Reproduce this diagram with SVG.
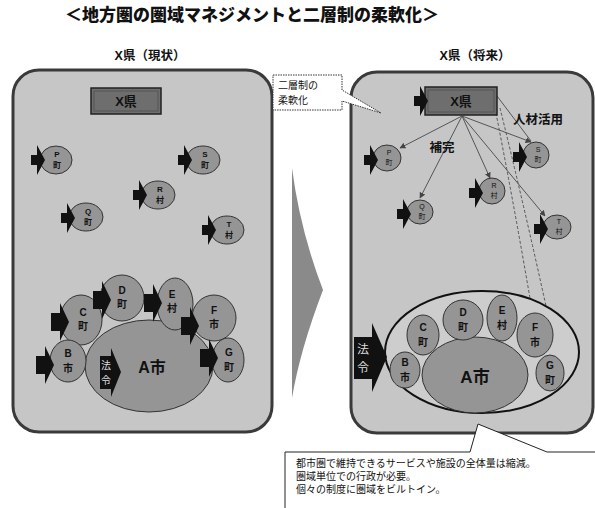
<svg xmlns="http://www.w3.org/2000/svg" width="595" height="508" viewBox="0 0 595 508">
<defs>
<style>
.t{font-family:"Liberation Sans","Noto Sans CJK JP",sans-serif;fill:#111}
.b{font-weight:bold}
.panel{fill:#c6c6c6;stroke:#3a3a3a;stroke-width:3}
.node{fill:#959595;stroke:#333;stroke-width:1}
.pref{fill:#6e6e6e;stroke:#222;stroke-width:1.5}
.ln{stroke:#555;stroke-width:1;fill:none}
.dl{stroke:#555;stroke-width:1;fill:none;stroke-dasharray:3 2}
.sm{font-size:8px;text-anchor:middle;font-weight:bold}
.md{font-size:10px;text-anchor:middle;font-weight:bold}
</style>
<path id="sa" d="M-13,-5 L-7,-5 L-7,-15 L1,0 L-7,15 L-7,5 L-13,5 Z" fill="#111"/>
<path id="la" d="M-17,-9 L-8,-9 L-8,-19 L1,0 L-8,19 L-8,9 L-17,9 Z" fill="#111"/>
<marker id="ah" viewBox="0 0 10 10" refX="9" refY="5" markerWidth="6" markerHeight="6" orient="auto">
<path d="M0,0 L10,5 L0,10 Z" fill="#444"/>
</marker>
</defs>
<rect width="595" height="508" fill="#fff"/>
<text id="title" x="252" y="21" font-size="17" text-anchor="middle" font-weight="900" fill="#111" font-family="Noto Sans CJK JP,sans-serif">＜地方圏の圏域マネジメントと二層制の柔軟化＞</text>
<text class="t b" x="150" y="60" font-size="12.5" text-anchor="middle">X県（現状）</text>
<text class="t b" x="475" y="60" font-size="12.5" text-anchor="middle">X県（将来）</text>

<g id="left-panel"><rect class="panel" x="13" y="70" width="259" height="362" rx="26"/></g>
<g id="right-panel"><rect class="panel" x="351" y="72" width="242" height="361" rx="26"/></g>

<g id="mid-arrow"><path d="M292,168 Q300,230 323,290 Q300,350 292,398 Z" fill="#8a8a8a"/></g>

<g id="callout-top">
<path d="M273,75 H342 V90 L381,113 L342,101 V110 H273 Z" fill="#fff" stroke="#333" stroke-width="1" stroke-dasharray="1.5 1"/>
<text class="t" x="278" y="89" font-size="10">二層制の</text>
<text class="t" x="278" y="104" font-size="10">柔軟化</text>
</g>

<g id="L-X"><rect class="pref" x="91" y="88" width="70" height="26"/><rect x="94" y="91" width="64" height="20" fill="none" stroke="#555" stroke-width="1"/><text class="t b" x="126" y="106" font-size="13" text-anchor="middle">X県</text></g>
<g id="L-P"><ellipse class="node" cx="56" cy="160" rx="16" ry="14"/><use href="#sa" x="44" y="160"/><text class="t sm" x="57" y="157">P</text><text class="t sm" x="57" y="168">町</text></g>
<g id="L-S"><ellipse class="node" cx="203" cy="160" rx="17" ry="14"/><use href="#sa" x="191" y="160"/><text class="t sm" x="205" y="157">S</text><text class="t sm" x="205" y="168">町</text></g>
<g id="L-R"><ellipse class="node" cx="158" cy="195" rx="17" ry="14"/><use href="#sa" x="146" y="195"/><text class="t sm" x="160" y="192">R</text><text class="t sm" x="160" y="203">村</text></g>
<g id="L-Q"><ellipse class="node" cx="86" cy="217" rx="17" ry="14"/><use href="#sa" x="74" y="218"/><text class="t sm" x="88" y="214">Q</text><text class="t sm" x="88" y="225">町</text></g>
<g id="L-T"><ellipse class="node" cx="227" cy="230" rx="17" ry="14"/><use href="#sa" x="215" y="230"/><text class="t sm" x="229" y="227">T</text><text class="t sm" x="229" y="238">村</text></g>

<g id="L-A"><ellipse class="node" cx="149" cy="366" rx="64" ry="46"/><text class="t b" x="152" y="373" font-size="16" text-anchor="middle">A市</text></g>
<g id="L-C"><ellipse class="node" cx="81" cy="320" rx="21" ry="25"/><text class="t md" x="83" y="316">C</text><text class="t md" x="83" y="330">町</text></g>
<g id="L-D"><ellipse class="node" cx="122" cy="298" rx="22" ry="23"/><text class="t md" x="122" y="294">D</text><text class="t md" x="122" y="308">町</text></g>
<g id="L-E"><ellipse class="node" cx="175" cy="304" rx="18" ry="26"/><text class="t md" x="172" y="298">E</text><text class="t md" x="172" y="312">村</text></g>
<g id="L-F"><ellipse class="node" cx="214" cy="318" rx="22" ry="23"/><text class="t md" x="214" y="314">F</text><text class="t md" x="214" y="328">市</text></g>
<g id="L-G"><ellipse class="node" cx="228" cy="360" rx="16" ry="22"/><text class="t md" x="229" y="356">G</text><text class="t md" x="229" y="371">町</text></g>
<g id="L-B"><ellipse class="node" cx="68" cy="361" rx="18" ry="21"/><text class="t md" x="68" y="357">B</text><text class="t md" x="68" y="372">市</text></g>
<g id="L-arrows">
<use href="#la" x="68" y="322"/><use href="#la" x="110" y="300"/><use href="#la" x="161" y="303"/>
<use href="#la" x="198" y="326"/><use href="#la" x="217" y="358"/><use href="#la" x="53" y="365"/>
<path d="M100,356 H111 V348 L121,372 L111,397 V389 H100 Z" fill="#111"/>
<text x="106" y="369" font-size="10" fill="#ddd" text-anchor="middle" font-family="Noto Sans CJK JP,sans-serif">法</text>
<text x="106" y="384" font-size="10" fill="#ddd" text-anchor="middle" font-family="Noto Sans CJK JP,sans-serif">令</text>
</g>

<g id="connectors">
<line class="ln" x1="462" y1="116" x2="400" y2="148" marker-end="url(#ah)"/>
<line class="ln" x1="462" y1="116" x2="420" y2="198" marker-end="url(#ah)"/>
<line class="ln" x1="462" y1="116" x2="490" y2="178" marker-end="url(#ah)"/>
<line class="ln" x1="462" y1="116" x2="545" y2="216" marker-end="url(#ah)"/>
<line class="ln" x1="462" y1="116" x2="531" y2="142" marker-end="url(#ah)"/>
<line class="ln" x1="497" y1="96" x2="531" y2="141"/>
<path class="dl" d="M495,108 Q515,210 532,310" marker-end="url(#ah)"/>
<path class="dl" d="M500,108 Q530,230 557,357" marker-end="url(#ah)"/>
</g>
<g id="R-X"><rect class="pref" x="425" y="87" width="72" height="28"/><rect x="428" y="90" width="66" height="22" fill="none" stroke="#555" stroke-width="1"/><text class="t b" x="461" y="106" font-size="13" text-anchor="middle">X県</text><use href="#sa" x="427" y="101"/></g>
<text class="t b" x="442" y="152" font-size="12.5" text-anchor="middle">補完</text>
<text class="t b" x="538" y="124" font-size="12.5" text-anchor="middle">人材活用</text>
<g id="R-P"><ellipse class="node" cx="387" cy="158" rx="14" ry="13"/><use href="#sa" x="377" y="160"/><text class="t" x="389" y="155" font-size="7" text-anchor="middle">P</text><text class="t" x="389" y="165" font-size="7" text-anchor="middle">町</text></g>
<g id="R-S"><ellipse class="node" cx="536" cy="155" rx="13" ry="13"/><use href="#sa" x="526" y="157"/><text class="t" x="538" y="152" font-size="7" text-anchor="middle">S</text><text class="t" x="538" y="162" font-size="7" text-anchor="middle">町</text></g>
<g id="R-R"><ellipse class="node" cx="492" cy="191" rx="13" ry="13"/><use href="#sa" x="482" y="193"/><text class="t" x="494" y="188" font-size="7" text-anchor="middle">R</text><text class="t" x="494" y="198" font-size="7" text-anchor="middle">村</text></g>
<g id="R-Q"><ellipse class="node" cx="420" cy="212" rx="13" ry="12"/><use href="#sa" x="410" y="214"/><text class="t" x="422" y="209" font-size="7" text-anchor="middle">Q</text><text class="t" x="422" y="219" font-size="7" text-anchor="middle">町</text></g>
<g id="R-T"><ellipse class="node" cx="557" cy="227" rx="14" ry="12"/><use href="#sa" x="547" y="229"/><text class="t" x="559" y="224" font-size="7" text-anchor="middle">T</text><text class="t" x="559" y="234" font-size="7" text-anchor="middle">村</text></g>

<g id="R-region"><ellipse cx="482" cy="352" rx="97" ry="61" fill="#cdcdcd" stroke="#111" stroke-width="2"/></g>
<g id="R-A"><ellipse class="node" cx="475" cy="375" rx="53" ry="38"/><text class="t b" x="475" y="383" font-size="17" text-anchor="middle">A市</text></g>
<g id="R-C"><ellipse class="node" cx="423" cy="335" rx="16" ry="20"/><text class="t md" x="423" y="331">C</text><text class="t md" x="423" y="346">町</text></g>
<g id="R-D"><ellipse class="node" cx="463" cy="320" rx="20" ry="20"/><text class="t md" x="463" y="316">D</text><text class="t md" x="463" y="331">町</text></g>
<g id="R-E"><ellipse class="node" cx="502" cy="318" rx="15" ry="23"/><text class="t md" x="502" y="314">E</text><text class="t md" x="502" y="329">村</text></g>
<g id="R-F"><ellipse class="node" cx="535" cy="335" rx="18" ry="22"/><text class="t md" x="535" y="331">F</text><text class="t md" x="535" y="346">市</text></g>
<g id="R-G"><ellipse class="node" cx="550" cy="373" rx="14" ry="18"/><text class="t md" x="550" y="369">G</text><text class="t md" x="550" y="384">町</text></g>
<g id="R-B"><ellipse class="node" cx="405" cy="370" rx="15" ry="18"/><text class="t md" x="405" y="366">B</text><text class="t md" x="405" y="381">市</text></g>
<g id="R-law">
<path d="M354,337 H372 V323 L387,357 L372,392 V379 H354 Z" fill="#111"/>
<text x="363" y="354" font-size="12" fill="#ddd" text-anchor="middle" font-family="Noto Sans CJK JP,sans-serif">法</text>
<text x="363" y="372" font-size="12" fill="#ddd" text-anchor="middle" font-family="Noto Sans CJK JP,sans-serif">令</text>
</g>

<g id="callout-bottom">
<path d="M285,452 H470 L478,424 L547,452 H600 V515 H285 Z" fill="#fff" stroke="#222" stroke-width="1"/>
<text class="t" x="296" y="467" font-size="10">都市圏で維持できるサービスや施設の全体量は縮減。</text>
<text class="t" x="296" y="480" font-size="10">圏域単位での行政が必要。</text>
<text class="t" x="296" y="493" font-size="10">個々の制度に圏域をビルトイン。</text>
</g>
</svg>
